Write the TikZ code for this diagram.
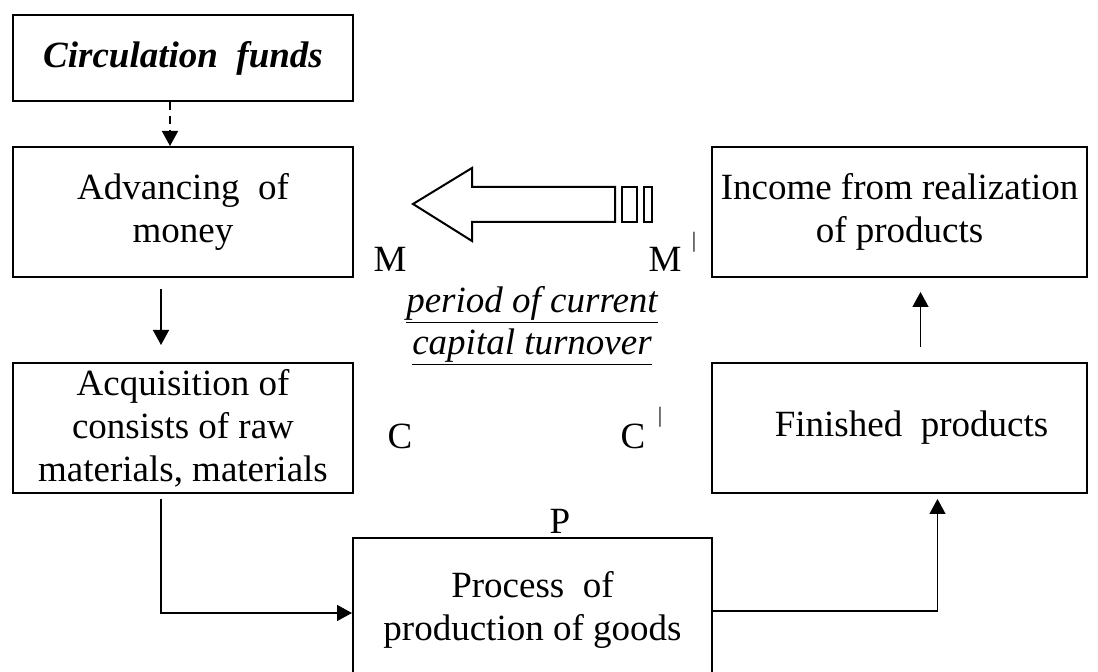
\documentclass[tikz,border=0pt]{standalone}
\usepackage{fontspec}
\setmainfont{Liberation Serif}
\usetikzlibrary{arrows.meta,calc}
\begin{document}
\begin{tikzpicture}[x=0.5pt,y=-0.5pt,
  box/.style={draw,line width=1pt,align=center,inner sep=0pt,
    font=\fontsize{18.5}{21.5}\selectfont},
  lbl/.style={inner sep=0pt,font=\fontsize{18.5}{21}\selectfont},
  bar/.style={inner sep=0pt,font=\fontsize{11}{11}\selectfont},
  conn/.style={line width=0.75pt,-{Triangle[length=7.5pt,width=8pt]}},
  blk/.style={draw,line width=1pt}]
\useasboundingbox (0,0) rectangle (1098,672);
% boxes
\node[box,minimum width=170pt,minimum height=43pt] (circ) at (183,58)
  {\bfseries\itshape Circulation\ \ funds};
\node[box,minimum width=170pt,minimum height=65pt] (adv) at (183,212)
  {Advancing\ \ of\\money};
\node[box,minimum width=170pt,minimum height=65pt] (acq) at (183,428)
  {Acquisition of\\consists of raw\\materials, materials};
\node[box,minimum width=187.5pt,minimum height=65pt] (inc) at (899.5,212)
  {Income from realization\\of products};
\node[box,minimum width=187.5pt,minimum height=65pt] (fin) at (899.5,428)
  {\hspace*{12pt}Finished\ \ products};
\node[box,minimum width=179.5pt,minimum height=72pt] (proc) at (532.5,610)
  {Process\ \ of\\production of goods};
% labels
\node[lbl] (M) at (390,259) {M};
\node[lbl] (Mp) at (665,259) {M};
\node[bar] (Mb) at (694,242) {|};
\node[lbl] (C) at (400,436) {C};
\node[lbl] (Cp) at (633,436) {C};
\node[bar] (Cb) at (660,417) {|};
\node[lbl] (P) at (560,521) {P};
\node[lbl,align=center,font=\fontsize{18.5}{20}\selectfont\itshape] (per) at (532,326)
  {\underline{period of current}\\[1pt]\underline{capital turnover}};
% block arrow
\draw[blk] (413,204) -- (472,168) -- (472,187) -- (615,187) -- (615,222)
  -- (472,222) -- (472,241) -- cycle;
\draw[blk] (622,187) rectangle (637,222);
\draw[blk] (644,187) rectangle (652,222);
% connectors
\draw[conn,dashed,dash pattern=on 4pt off 3pt] ($(circ.south)+(-13,0)$) -- ($(adv.north)+(-13,0)$);
\draw[conn,shorten <=5.5pt,shorten >=8.5pt] ($(adv.south)+(-22,0)$) -- ($(acq.north)+(-22,0)$);
\draw[conn,shorten <=7.5pt,shorten >=7pt] ($(fin.north)+(21,0)$) -- ($(inc.south)+(21,0)$);
\draw[conn,shorten <=2.5pt] ($(acq.south)+(-22,0)$) |- ($(proc.west)+(0,3)$);
\draw[conn,shorten >=2.5pt] ($(proc.east)+(0,1)$) -| ($(fin.south)+(38,0)$);
\end{tikzpicture}
\end{document}
